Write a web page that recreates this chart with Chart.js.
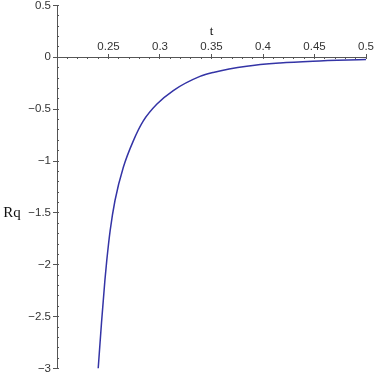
<!DOCTYPE html>
<html>
<head>
<meta charset="utf-8">
<script src="https://cdn.jsdelivr.net/npm/chart.js"></script>
<style>
    body { margin: 0; background: #fff; }
    canvas { display: block; }
</style>
</head>
<body>
<canvas id="rqChart" width="374" height="374"></canvas>
<script>
// values (t on x, Rq on y)
const tValues = [0.2400, 0.2432, 0.2465, 0.2483, 0.2516, 0.2563, 0.2644, 0.2741, 0.2838,
                 0.2968, 0.3129, 0.3388, 0.3517, 0.3842, 0.4165, 0.4485, 0.5];
const rqValues = [-3.00, -2.56, -2.15, -1.96, -1.67, -1.38, -1.06, -0.805, -0.613,
                  -0.453, -0.32, -0.184, -0.146, -0.086, -0.055, -0.038, -0.022];

// axis ranges and tick spacing
const xRange = [0.2, 0.5];
const yRange = [-3, 0.5];
const xMajorStep = 0.05;
const xMinorStep = 0.01;
const yMajorStep = 0.5;
const yMinorStep = 0.1;

const axisColor = '#555';
const labelColor = '#333';
const tickFont = { family: '"Liberation Sans", Arial, sans-serif', size: 11.5 };

function fmt(v) {
    const r = Math.round(v * 100) / 100;
    return r < 0 ? '\u2212' + String(-r) : String(r);
}

// axis names "t" and "Rq" are plain text, not rotated
const axisNames = {
    id: 'axisNames',
    afterDraw(chart) {
        const ctx = chart.ctx;
        ctx.save();
        ctx.fillStyle = '#111';
        ctx.textAlign = 'center';
        ctx.textBaseline = 'middle';
        ctx.font = '13px "Liberation Serif", serif';
        ctx.fillText('t', chart.scales.x.getPixelForValue(0.35), 32);
        ctx.font = '15px "Liberation Serif", serif';
        ctx.fillText('Rq', 12, chart.scales.y.getPixelForValue(-1.5));
        ctx.restore();
    }
};

const points = tValues.map((t, i) => ({ x: t, y: rqValues[i] }));

new Chart(document.getElementById('rqChart'), {
    type: 'line',
    data: {
        datasets: [{
            data: points,
            borderColor: '#3434a6',
            borderWidth: 1.5,
            pointRadius: 0,
            cubicInterpolationMode: 'monotone',
            fill: false
        }]
    },
    options: {
        responsive: false,
        animation: false,
        layout: { padding: { left: 0, right: 8, top: 4, bottom: 5 } },
        plugins: { legend: { display: false }, tooltip: { enabled: false } },
        scales: {
            x: {
                type: 'linear',
                axis: 'x',
                position: { y: 0 },
                min: xRange[0],
                max: xRange[1],
                ticks: {
                    stepSize: xMajorStep,
                    autoSkip: false,
                    maxRotation: 0,
                    padding: -13.5,
                    color: labelColor,
                    font: tickFont,
                    callback: v => Math.abs(v - xRange[0]) < 1e-9 ? '' : fmt(v)
                },
                grid: { drawOnChartArea: false, tickLength: -4, color: axisColor },
                border: { color: axisColor, width: 1 }
            },
            xMinor: {
                type: 'linear',
                axis: 'x',
                position: { y: 0 },
                min: xRange[0],
                max: xRange[1],
                ticks: { display: false, stepSize: xMinorStep },
                grid: { drawOnChartArea: false, tickLength: 2, color: axisColor },
                border: { display: false }
            },
            y: {
                type: 'linear',
                axis: 'y',
                position: 'left',
                min: yRange[0],
                max: yRange[1],
                ticks: {
                    stepSize: yMajorStep,
                    padding: 2,
                    color: labelColor,
                    font: { family: tickFont.family, size: tickFont.size, lineHeight: 0.6 },
                    callback: v => fmt(v)
                },
                grid: { drawOnChartArea: false, tickLength: 4, color: axisColor },
                border: { color: axisColor, width: 1 },
                afterFit: scale => { scale.width = 57; }
            },
            yMinor: {
                type: 'linear',
                axis: 'y',
                position: { x: 0.2 },
                min: yRange[0],
                max: yRange[1],
                ticks: { display: false, stepSize: yMinorStep },
                grid: { drawOnChartArea: false, tickLength: -2, color: axisColor },
                border: { display: false }
            }
        }
    },
    plugins: [axisNames]
});
</script>
</body>
</html>
